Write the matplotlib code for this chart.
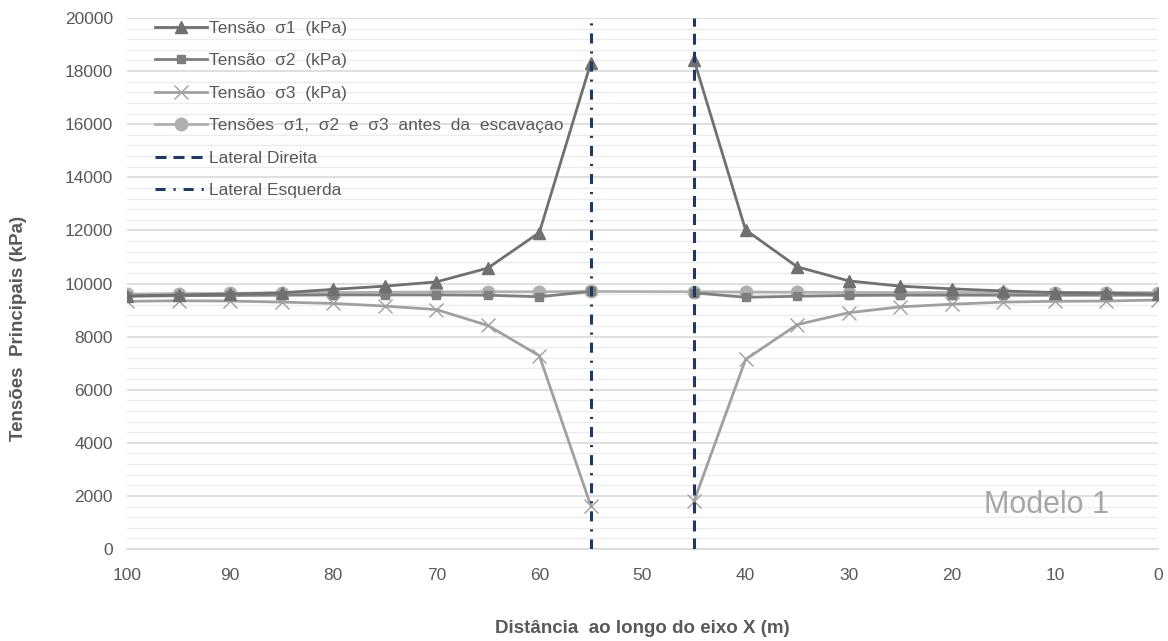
import matplotlib
matplotlib.use("Agg")
import matplotlib.pyplot as plt
import numpy as np
from matplotlib.ticker import MultipleLocator

plt.rcParams["font.family"] = ["Liberation Sans", "DejaVu Sans"]

# Distance along the X axis (m); no result inside the excavation (x = 50)
x_pos = [100, 95, 90, 85, 80, 75, 70, 65, 60, 55, 50, 45, 40, 35, 30, 25, 20, 15, 10, 5, 0]

# Principal stresses after excavation (kPa)
sigma1 = [9530, 9570, 9600, 9650, 9780, 9900, 10060, 10580, 11920, 18320, None,
          18420, 12020, 10630, 10100, 9900, 9800, 9720, 9660, 9640, 9600]
sigma2 = [9520, 9540, 9550, 9560, 9570, 9570, 9570, 9560, 9500, 9700, None,
          9650, 9480, 9520, 9550, 9560, 9560, 9560, 9560, 9560, 9560]
sigma3 = [9330, 9350, 9340, 9300, 9250, 9150, 9020, 8420, 7280, 1620, None,
          1800, 7140, 8450, 8900, 9120, 9220, 9300, 9330, 9340, 9380]
# Principal stresses before excavation (kPa)
sigma_pre = [9600, 9620, 9630, 9650, 9660, 9670, 9680, 9690, 9690, 9700, None,
             9690, 9680, 9670, 9660, 9660, 9660, 9660, 9660, 9660, 9660]

# Excavation side walls
x_right_wall = 45
x_left_wall = 55

x_ticks = list(range(0, 101, 10))
y_ticks = list(range(0, 20001, 2000))


def as_array(values):
    return np.array([np.nan if v is None else v for v in values], dtype=float)


fig = plt.figure(figsize=(11.68, 6.41), dpi=100)
ax = fig.add_axes([0.1087, 0.1435, 0.8827, 0.8284])

navy = "#1f3864"
xa = np.array(x_pos, dtype=float)
ax.plot(xa, as_array(sigma1), color="#707070", lw=2, marker="^", ms=8,
        label="Tensão  σ1  (kPa)", zorder=4)
ax.plot(xa, as_array(sigma2), color="#7f7f7f", lw=2, marker="s", ms=6,
        label="Tensão  σ2  (kPa)", zorder=3)
ax.plot(xa, as_array(sigma3), color="#a0a0a0", lw=2, marker="x", ms=10, mew=1,
        label="Tensão  σ3  (kPa)", zorder=3)
# the pre-excavation line runs straight across the excavation
pre = as_array(sigma_pre)
ok = ~np.isnan(pre)
ax.plot(xa[ok], pre[ok], color="#b0b0b0", lw=2, marker="o", ms=9,
        label="Tensões  σ1,  σ2  e  σ3  antes  da  escavaçao", zorder=2)
ax.axvline(x_right_wall, color=navy, lw=2.2, ls=(0, (3.6, 2.3)),
           label="Lateral Direita", zorder=5)
ax.axvline(x_left_wall, color=navy, lw=2.2, ls=(0, (3.3, 2.6, 0.7, 2.6)),
           label="Lateral Esquerda", zorder=5)

ax.set_xlim(100, 0)
ax.set_ylim(0, 20000)
ax.set_xticks(x_ticks)
ax.set_yticks(y_ticks)
ax.yaxis.set_minor_locator(MultipleLocator(400))
ax.grid(which="major", axis="y", color="#d9d9d9", lw=1.2, zorder=0)
ax.grid(which="minor", axis="y", color="#ececec", lw=1.0, zorder=0)
ax.set_axisbelow(True)

for s in ["top", "right", "left"]:
    ax.spines[s].set_visible(False)
ax.spines["bottom"].set_color("#d9d9d9")
ax.spines["bottom"].set_linewidth(1.2)

ax.tick_params(axis="both", which="both", length=0, labelsize=12.5,
               labelcolor="#595959")
ax.tick_params(axis="x", pad=14)
ax.tick_params(axis="y", pad=10)

ax.set_xlabel("Distância  ao longo do eixo X (m)", fontsize=13.5,
              fontweight="bold", color="#595959", labelpad=26)
ax.set_ylabel("Tensões  Principais (kPa)", fontsize=13.5,
              fontweight="bold", color="#595959")
ax.yaxis.set_label_coords(-0.097, 0.416)

fig.text(1046 / 1168, 1 - 505 / 641, "Modelo 1", fontsize=22,
         color="#a6a6a6", ha="center", va="center")

leg = ax.legend(loc="upper left", bbox_to_anchor=(0.02, 1.008), frameon=False,
                fontsize=12.5, handlelength=3.0, handletextpad=0.15,
                labelspacing=1.0, borderaxespad=0.0)
for t in leg.get_texts():
    t.set_color("#595959")

fig.savefig("out.png", dpi=100, facecolor="white")
